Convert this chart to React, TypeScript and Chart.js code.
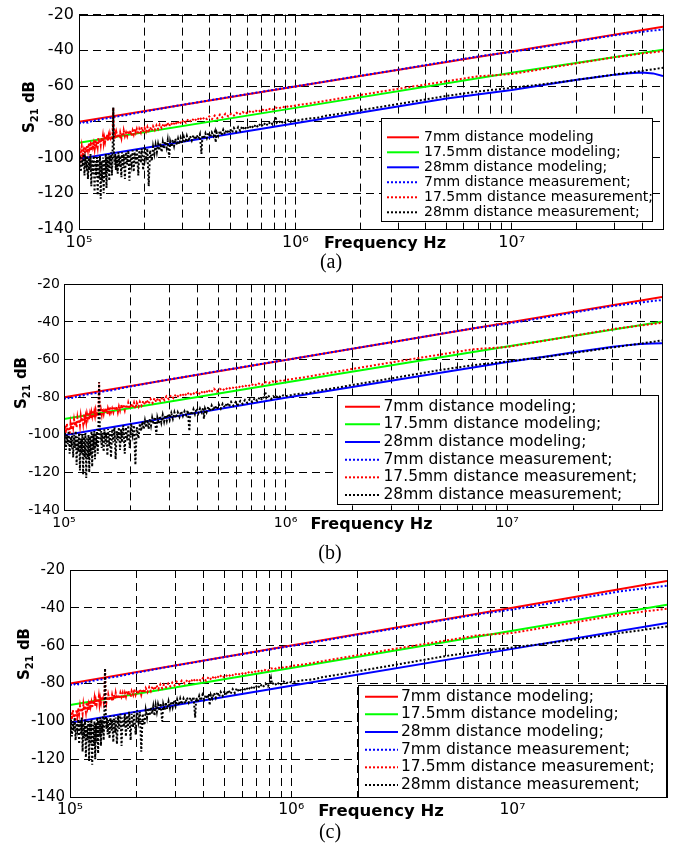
import React, { useEffect, useRef } from "react";
import { Chart, registerables } from "chart.js";

Chart.register(...registerables);

const FONT = "DejaVu Sans";

// ---------- axes ----------
const X_MIN = 1e5;
const X_MAX = 5e7;
const Y_MIN = -140;
const Y_MAX = -20;
const xTickValues = [
  1e5, 2e5, 3e5, 4e5, 5e5, 6e5, 7e5, 8e5, 9e5,
  1e6, 2e6, 3e6, 4e6, 5e6, 6e6, 7e6, 8e6, 9e6,
  1e7, 2e7, 3e7, 4e7, 5e7,
];
const xMajorValues = [1e5, 1e6, 1e7];
const xMajorLabels = ["10\u2075", "10\u2076", "10\u2077"];
const yTickValues = [-140, -120, -100, -80, -60, -40, -20];

// ---------- legends ----------
const legendA = [
  "7mm distance modeling",
  "17.5mm distance modeling;",
  "28mm distance modeling;",
  "7mm distance measurement;",
  "17.5mm distance measurement;",
  "28mm distance measurement;",
];
const legendBC = [
  "7mm distance modeling;",
  "17.5mm distance modeling;",
  "28mm distance modeling;",
  "7mm distance measurement;",
  "17.5mm distance measurement;",
  "28mm distance measurement;",
];
const seriesColors = ["#ff0000", "#00ff00", "#0000ff", "#0000ff", "#ff0000", "#000000"];
const seriesDotted = [false, false, false, true, true, true];

// ---------- modeling curves  [kHz, dB] ----------
const model7A: [number, number][] = [[100, -80], [1000, -60.3], [10000, -40.6], [50000, -26.8]];
const model17A: [number, number][] = [[100, -91.8], [1000, -72.2], [10000, -52.6], [50000, -39.6]];
const model28A: [number, number][] = [
  [100, -100.7], [1000, -80.8], [5000, -66.9], [10000, -62.2], [15000, -58.9], [20000, -56.5],
  [25000, -54.9], [30000, -53.6], [35000, -52.8], [40000, -52.4], [45000, -52.9], [50000, -54.4],
];

const model7B: [number, number][] = [[100, -80], [1000, -60.2], [10000, -40.4], [50000, -26.7]];
const model17B: [number, number][] = [[100, -91.6], [1000, -72.2], [10000, -53], [50000, -39.8]];
const model28B: [number, number][] = [
  [100, -100.2], [1000, -80.3], [10000, -61.3], [15000, -58.3], [20000, -56.1], [25000, -54.5],
  [30000, -53.2], [35000, -52.3], [40000, -51.7], [45000, -51.4], [50000, -51.3],
];

const model7C: [number, number][] = [[100, -80], [1000, -59.9], [10000, -39.9], [50000, -25.8]];
const model17C: [number, number][] = [[100, -91.4], [1000, -71.8], [10000, -52.1], [50000, -38.4]];
const model28C: [number, number][] = [[100, -100.8], [1000, -81.2], [10000, -61.7], [50000, -48]];

// ---------- measurements (shared by all panels)  [kHz, dB] ----------
const meas7: [number, number][] = [
  [100, -80.5], [103, -81], [106, -80], [110, -80.5], [115, -79.5], [120, -79.2], [130, -78.3],
  [140, -77.8], [150, -77], [165, -76.3], [180, -75.3], [200, -74.3], [230, -73], [260, -71.8],
  [300, -70.5], [350, -69.2], [400, -68], [500, -66], [600, -64.5], [700, -63.2], [850, -61.5],
  [1000, -60.2], [1500, -56.7], [2000, -54.2], [3000, -50.8], [5000, -46.3], [7000, -43.4],
  [10000, -40.9], [15000, -37.5], [20000, -35], [30000, -31.5], [40000, -29.6], [50000, -28.3],
];

const meas17: [number, number][] = [
  [100, -93], [100.5, -100], [101, -95], [102, -99], [103, -94], [104, -98], [105, -96], [106, -100],
  [107, -94], [108, -97], [109, -93], [110, -96], [111, -92], [112, -95], [113, -93], [114, -96],
  [115, -91], [116, -94], [117, -92], [118, -95], [119, -90], [120, -93], [121, -91], [122, -94],
  [123, -89], [124, -92], [125, -90], [126, -93], [127, -89], [128, -91], [129, -88], [130, -92],
  [131, -89], [132, -91], [133, -88], [134, -90], [135, -87], [136, -91], [137, -88], [138, -90],
  [139, -87], [140, -89], [141, -88], [142, -90], [143, -87], [144, -72], [145, -88], [146, -90],
  [147, -87], [148, -89], [149, -86], [151, -89], [152, -87], [154, -88], [155, -86], [157, -89],
  [158, -86], [160, -88], [161, -85], [163, -88], [165, -86], [167, -88], [169, -85], [171, -87],
  [173, -85], [175, -88], [177, -85], [179, -87], [181, -84], [183, -86], [185, -84], [188, -87],
  [190, -84], [193, -86], [195, -83], [198, -86], [201, -83.5], [204, -85.5], [207, -83], [210, -86],
  [213, -83], [217, -85], [220, -82.5], [224, -84.5], [228, -82], [232, -84], [236, -81.5], [241, -83.5],
  [246, -81], [251, -83], [256, -80.5], [261, -82.5], [266, -80.5], [272, -82], [278, -80], [284, -81.5],
  [290, -79.5], [297, -81], [304, -79], [312, -80.5], [320, -78.5], [330, -80], [340, -78], [350, -79.5],
  [360, -77.5], [370, -79], [380, -77.5], [390, -78.5], [400, -77], [412, -78.5], [424, -76.5], [436, -78],
  [448, -76], [460, -77.5], [475, -75.5], [490, -77], [505, -75.5], [520, -76.5], [535, -75], [550, -76],
  [570, -74.5], [590, -75.5], [610, -74], [630, -75], [650, -73.5], [675, -74.5], [700, -73], [725, -74],
  [750, -72.5], [780, -73.5], [810, -72], [840, -72.5], [870, -71.5], [900, -72], [935, -71], [970, -71.5],
  [1000, -70.8], [1200, -69.5], [1500, -67.5], [2000, -65], [3000, -61.5], [5000, -57.3], [7000, -54.5],
  [10000, -53.3], [15000, -49.8], [20000, -47.3], [30000, -43.8], [40000, -41.8], [50000, -40.5],
];

const meas28: [number, number][] = [
  [100, -98], [100.5, -106], [101, -99], [102, -108], [103, -100], [104, -105], [105, -98], [106, -110],
  [107, -101], [108, -104], [109, -99], [110, -112], [111, -100], [112, -107], [113, -98], [114, -116],
  [115, -101], [116, -109], [117, -99], [118, -119], [119, -102], [120, -110], [121, -100], [122, -121],
  [123, -101], [124, -112], [125, -99], [126, -123], [127, -102], [128, -113], [129, -100], [130, -120],
  [131, -101], [132, -111], [133, -98], [134, -117], [135, -100], [136, -108], [137, -98], [138, -113],
  [139, -99], [140, -106], [141, -97], [142, -110], [143, -96], [144, -72], [145, -95], [146, -104],
  [147, -98], [148, -107], [149, -99], [151, -109], [152, -97], [154, -105], [155, -99], [157, -111],
  [158, -97], [160, -106], [161, -98], [163, -112], [165, -97], [167, -104], [169, -96], [171, -113],
  [173, -98], [175, -103], [177, -96], [179, -108], [181, -97], [183, -104], [185, -95], [188, -110],
  [190, -96], [193, -103], [195, -95], [198, -107], [201, -94], [204, -100], [207, -95], [210, -116],
  [213, -96], [217, -102], [220, -94], [223, -98], [226, -93], [229, -97], [232, -92.5], [235, -96],
  [238, -92], [241, -97], [244, -91.5], [247, -95], [250, -91], [254, -94.5], [257, -90.5], [261, -100],
  [264, -91], [268, -94], [271, -90], [275, -93.5], [279, -89.5], [283, -93], [287, -89.5], [291, -92.5],
  [295, -89], [300, -92], [305, -88.5], [310, -91.5], [315, -88], [320, -91], [326, -88], [332, -90.5],
  [338, -87.5], [344, -90], [350, -87.5], [356, -89.5], [362, -87], [368, -98], [372, -87.5], [378, -89.5],
  [384, -86.5], [390, -89], [397, -86], [404, -88.5], [411, -86], [418, -88], [425, -85.5], [428, -91.5],
  [433, -86], [440, -88], [448, -85], [456, -87.5], [464, -84.5], [472, -87], [480, -84.5], [490, -86.5],
  [500, -84], [510, -86], [520, -83.5], [532, -85.5], [544, -83], [556, -85], [568, -82.5], [582, -84.5],
  [596, -82.5], [610, -84], [625, -82], [640, -83.5], [656, -81.5], [672, -83], [690, -81], [708, -82.5],
  [726, -80.5], [745, -82], [765, -80], [785, -81.5], [800, -79.5], [810, -77], [820, -80.5], [840, -79.5],
  [860, -81], [880, -79.5], [900, -80.5], [925, -79], [950, -80], [975, -79], [1000, -79.5], [1100, -78.5],
  [1200, -78], [1300, -77.5], [1400, -76.5], [1500, -76], [1700, -75], [2000, -73.5], [3000, -70],
  [5000, -65.5], [7000, -63], [10000, -61], [15000, -58.5], [20000, -56.5], [30000, -53.5], [40000, -51.5],
  [50000, -49.8],
];

// ---------- panel layout ----------
type Cfg = {
  top: number;
  height: number;
  area: { l: number; t: number; r: number; b: number };
  yTickSize: number;
  yTickPad: number;
  xTickSize: number;
  xTickPad: number;
  xLabel: { x: number; y: number; size: number };
  yLabel: { x: number; y: number; size: number };
  legend: {
    x0: number; x1: number; y0: number; y1: number;
    row0: number; rowH: number; s0: number; s1: number; tx: number; size: number;
  };
  labels: string[];
  series: [number, number][][];
};

const panels: Cfg[] = [
  {
    top: 0,
    height: 262,
    area: { l: 79, t: 13, r: 663, b: 229 },
    yTickSize: 16, yTickPad: 5, xTickSize: 16, xTickPad: 4,
    xLabel: { x: 385, y: 243.5, size: 16 },
    yLabel: { x: 30, y: 107, size: 15 },
    legend: { x0: 381, x1: 652, y0: 118, y1: 221, row0: 137.3, rowH: 15, s0: 387, s1: 419, tx: 424, size: 14 },
    labels: legendA,
    series: [model7A, model17A, model28A, meas7, meas17, meas28],
  },
  {
    top: 272,
    height: 270,
    area: { l: 64, t: 12, r: 662, b: 238 },
    yTickSize: 14, yTickPad: 4, xTickSize: 14, xTickPad: 5,
    xLabel: { x: 371.5, y: 253, size: 16 },
    yLabel: { x: 22, y: 111, size: 15 },
    legend: { x0: 337, x1: 658, y0: 123, y1: 232, row0: 134.7, rowH: 17.66, s0: 345, s1: 380, tx: 383.5, size: 15.5 },
    labels: legendBC,
    series: [model7B, model17B, model28B, meas7, meas17, meas28],
  },
  {
    top: 556,
    height: 290,
    area: { l: 70, t: 13, r: 667, b: 241 },
    yTickSize: 15, yTickPad: 5, xTickSize: 15.5, xTickPad: 4,
    xLabel: { x: 381, y: 255.7, size: 16.5 },
    yLabel: { x: 25, y: 98, size: 15 },
    legend: { x0: 358, x1: 666, y0: 129, y1: 241, row0: 140.7, rowH: 17.66, s0: 365, s1: 398, tx: 401, size: 15.5 },
    labels: legendBC,
    series: [model7C, model17C, model28C, meas7, meas17, meas28],
  },
];

const captions = [
  { text: "(a)", x: 331, y: 261 },
  { text: "(b)", x: 330, y: 552 },
  { text: "(c)", x: 330, y: 831 },
];

function makeOverlay(cfg: Cfg) {
  return {
    id: "overlay",
    afterDraw(chart: any) {
      const ctx: CanvasRenderingContext2D = chart.ctx;
      const a = chart.chartArea;
      ctx.save();
      ctx.setLineDash([]);
      ctx.strokeStyle = "#000";
      ctx.lineWidth = 1;
      ctx.strokeRect(
        Math.round(a.left) + 0.5,
        Math.round(a.top) + 0.5,
        Math.round(a.right - a.left),
        Math.round(a.bottom - a.top)
      );

      // legend box
      const L = cfg.legend;
      ctx.fillStyle = "#fff";
      ctx.fillRect(L.x0, L.y0, L.x1 - L.x0, L.y1 - L.y0);
      ctx.strokeStyle = "#000";
      ctx.lineWidth = 1;
      ctx.strokeRect(Math.round(L.x0) + 0.5, Math.round(L.y0) + 0.5, Math.round(L.x1 - L.x0), Math.round(L.y1 - L.y0));
      chart.data.datasets.forEach((ds: any, i: number) => {
        const y = L.row0 + i * L.rowH;
        ctx.strokeStyle = ds.borderColor;
        ctx.lineWidth = 2;
        ctx.setLineDash(ds.borderDash || []);
        ctx.beginPath();
        ctx.moveTo(L.s0, y);
        ctx.lineTo(L.s1, y);
        ctx.stroke();
        ctx.setLineDash([]);
        ctx.fillStyle = "#000";
        ctx.font = `${L.size}px "${FONT}"`;
        ctx.textAlign = "left";
        ctx.textBaseline = "middle";
        ctx.fillText(ds.label, L.tx, y);
      });

      // x label
      ctx.fillStyle = "#000";
      ctx.font = `bold ${cfg.xLabel.size}px "${FONT}"`;
      ctx.textAlign = "center";
      ctx.textBaseline = "middle";
      ctx.fillText("Frequency Hz", cfg.xLabel.x, cfg.xLabel.y);

      // y label  S_21 dB (rotated)
      const Y = cfg.yLabel;
      const big = `bold ${Y.size}px "${FONT}"`;
      const small = `bold ${Math.round(Y.size * 0.68)}px "${FONT}"`;
      ctx.font = big;
      const wS = ctx.measureText("S").width;
      const wDB = ctx.measureText(" dB").width;
      ctx.font = small;
      const w21 = ctx.measureText("21").width;
      const total = wS + w21 + wDB;
      ctx.translate(Y.x, Y.y);
      ctx.rotate(-Math.PI / 2);
      ctx.textAlign = "left";
      ctx.textBaseline = "middle";
      let px = -total / 2;
      ctx.font = big;
      ctx.fillText("S", px, 0);
      px += wS;
      ctx.font = small;
      ctx.fillText("21", px, 5);
      px += w21;
      ctx.font = big;
      ctx.fillText(" dB", px, 0);
      ctx.restore();
    },
  };
}

function Panel({ cfg }: { cfg: Cfg }) {
  const ref = useRef<HTMLCanvasElement>(null);
  useEffect(() => {
    const canvas = ref.current;
    if (!canvas) return;
    const datasets = cfg.series.map((pts, i) => ({
      label: cfg.labels[i],
      data: pts.map(([k, db]) => ({ x: k * 1e3, y: db })),
      borderColor: seriesColors[i],
      backgroundColor: seriesColors[i],
      borderWidth: 2,
      borderDash: seriesDotted[i] ? [2, 2] : [],
      pointRadius: 0,
      fill: false,
      tension: 0,
      order: 6 - i,
    }));
    const chart = new Chart(canvas, {
      type: "line",
      data: { datasets },
      options: {
        responsive: false,
        animation: false,
        devicePixelRatio: 1,
        layout: { padding: { top: cfg.area.t, right: 675 - cfg.area.r, left: 0, bottom: 0 } },
        plugins: { legend: { display: false }, tooltip: { enabled: false } },
        scales: {
          x: {
            type: "logarithmic",
            min: X_MIN,
            max: X_MAX,
            afterBuildTicks: (s: any) => {
              s.ticks = xTickValues.map((v) => ({ value: v }));
            },
            afterFit: (s: any) => {
              s.height = cfg.height - cfg.area.b;
            },
            ticks: {
              autoSkip: false,
              maxRotation: 0,
              minRotation: 0,
              padding: cfg.xTickPad,
              color: "#000",
              font: { family: FONT, size: cfg.xTickSize },
              callback: (v: any) => {
                const k = xMajorValues.indexOf(Number(v));
                return k >= 0 ? xMajorLabels[k] : "";
              },
            },
            grid: { color: "#000", lineWidth: 1, drawTicks: false },
            border: { display: true, color: "#000", width: 1, dash: [8, 5] },
          },
          y: {
            type: "linear",
            min: Y_MIN,
            max: Y_MAX,
            afterBuildTicks: (s: any) => {
              s.ticks = yTickValues.map((v) => ({ value: v }));
            },
            afterFit: (s: any) => {
              s.width = cfg.area.l;
            },
            ticks: {
              padding: cfg.yTickPad,
              color: "#000",
              font: { family: FONT, size: cfg.yTickSize },
            },
            grid: { color: "#000", lineWidth: 1, drawTicks: false },
            border: { display: true, color: "#000", width: 1, dash: [8, 5] },
          },
        },
      } as any,
      plugins: [makeOverlay(cfg)],
    });
    return () => chart.destroy();
  }, [cfg]);
  return (
    <canvas
      ref={ref}
      width={675}
      height={cfg.height}
      style={{ position: "absolute", left: 0, top: cfg.top, width: 675, height: cfg.height }}
    />
  );
}

export default function App() {
  return (
    <div
      style={{
        position: "absolute",
        left: 0,
        top: 0,
        width: 675,
        height: 846,
        background: "#fff",
        overflow: "hidden",
      }}
    >
      {panels.map((p, i) => (
        <Panel key={i} cfg={p} />
      ))}
      {captions.map((c, i) => (
        <span
          key={"c" + i}
          style={{
            position: "absolute",
            left: c.x,
            top: c.y,
            transform: "translate(-50%, -50%)",
            fontFamily: '"Liberation Serif", "Times New Roman", serif',
            fontSize: 20,
            color: "#000",
            lineHeight: 1,
            zIndex: 2,
          }}
        >
          {c.text}
        </span>
      ))}
    </div>
  );
}
